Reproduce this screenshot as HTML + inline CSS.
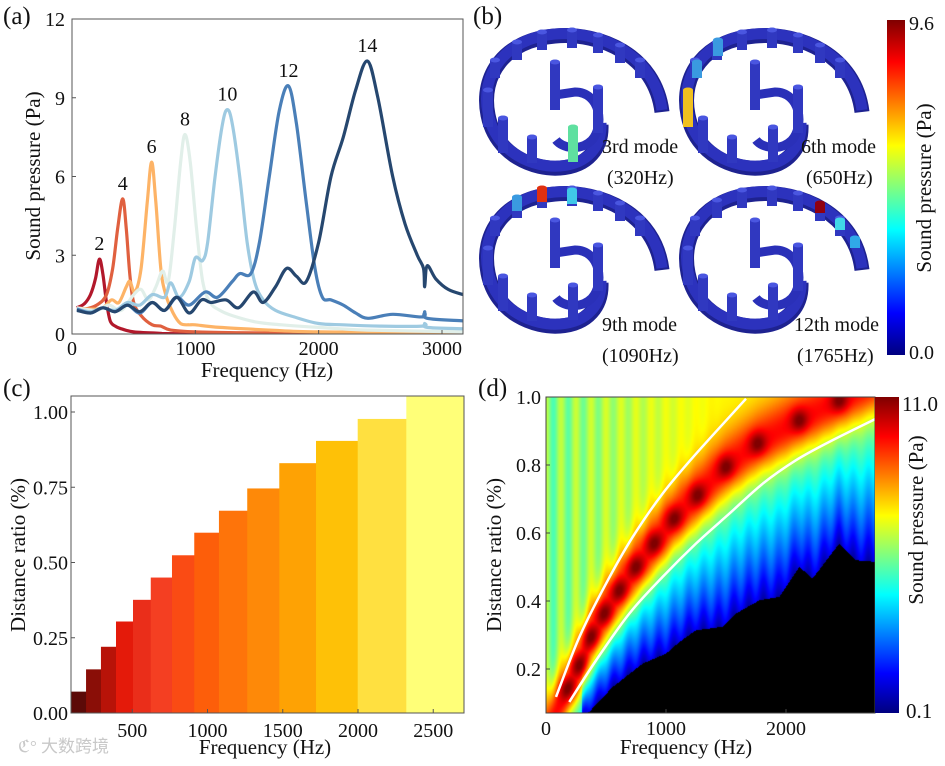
<!DOCTYPE html>
<html><head><meta charset="utf-8">
<style>
html,body{margin:0;padding:0;background:#fff;}
#wrap{position:relative;width:945px;height:766px;overflow:hidden;font-family:"Liberation Serif","Noto Serif CJK SC",serif;}
svg{position:absolute;left:0;top:0;}
#heat{position:absolute;left:546px;top:397px;}
text{font-family:"Liberation Serif","Noto Sans CJK SC",serif;fill:#111;}
</style></head>
<body>
<div id="wrap">
<canvas id="heat" width="329" height="316"></canvas>
<svg id="fig" width="945" height="766" viewBox="0 0 945 766">
<defs>
<linearGradient id="jetV" x1="0" y1="1" x2="0" y2="0">
<stop offset="0" stop-color="#00007f"/><stop offset="0.125" stop-color="#0000ff"/><stop offset="0.375" stop-color="#00ffff"/><stop offset="0.625" stop-color="#ffff00"/><stop offset="0.875" stop-color="#ff0000"/><stop offset="1" stop-color="#7f0000"/>
</linearGradient>
<clipPath id="clipA"><rect x="72" y="19" width="391" height="315"/></clipPath>
<clipPath id="clipC"><rect x="71" y="396" width="393" height="317"/></clipPath>
<clipPath id="clipD"><rect x="546" y="397" width="329" height="316"/></clipPath>
</defs>
<g id="pa"></g>
<g id="pb"></g>
<g id="pc"></g>
<g id="pd"></g>
<text x="18" y="752" font-size="17" style="fill:#c8c8c8">ℭ° 大数跨境</text>
</svg>
</div>
<script>
// ---------- Panel (a) data ----------
const aFreqTicks=[0,1000,2000,3000];
const aPTicks=[0,3,6,9,12];
const aLabels=["2","4","6","8","10","12","14"];
const aColors=["#b2182b","#e0603f","#fdb366","#e1efe9","#9ecae1","#4a7fb8","#26476f"];
const s2F=[40,100,150,190,222,250,280,310,350,400,500,700,1000,3170];
const s2P=[1.0,1.15,1.5,2.1,2.85,2.3,1.2,0.5,0.3,0.2,0.08,0.03,0.01,0];
const s4F=[40,100,200,280,330,370,411,440,470,500,560,650,720,800,1000,1500,3170];
const s4P=[1.0,0.95,1.1,1.5,2.5,4.0,5.15,4.0,2.2,1.2,0.7,0.35,0.3,0.15,0.08,0.04,0.01];
const s6F=[40,150,250,320,380,440,470,510,560,610,646,680,720,760,820,880,950,1000,1200,1600,2000,3170];
const s6P=[1.0,0.95,1.0,1.3,1.2,1.8,2.0,1.6,2.5,5.0,6.55,5.0,2.5,1.5,0.8,0.4,0.35,0.35,0.25,0.15,0.08,0.03];
const s8F=[40,200,300,400,500,560,620,680,735,780,830,880,916,960,1010,1060,1120,1200,1300,1500,1700,2000,2400,3170];
const s8P=[1.0,0.9,1.1,0.9,1.5,1.7,1.3,1.8,2.4,2.0,4.0,6.5,7.6,6.5,4.0,2.0,1.2,0.9,0.7,0.45,0.35,0.25,0.15,0.08];
const s10F=[40,150,250,350,450,550,650,750,800,870,950,1000,1060,1100,1160,1220,1260,1300,1360,1420,1480,1550,1650,1800,2000,2200,2500,2840,2860,2880,3170];
const s10P=[0.95,0.85,1.0,0.9,1.2,1.1,1.5,1.4,1.95,1.4,2.0,2.9,2.8,3.5,6.0,8.0,8.55,8.0,6.0,3.5,2.0,1.3,0.9,0.65,0.4,0.35,0.3,0.3,0.4,0.25,0.2];
const s12F=[40,150,250,350,450,550,650,750,850,950,1080,1180,1300,1360,1450,1520,1600,1680,1755,1820,1900,1970,2030,2100,2200,2300,2400,2600,2840,2860,2880,3170];
const s12P=[0.95,0.8,1.0,0.85,1.1,0.8,1.2,0.9,1.4,1.1,1.6,1.4,2.0,2.3,2.3,3.5,6.0,8.5,9.45,8.0,5.0,2.5,1.4,1.3,1.1,0.8,0.6,0.75,0.65,0.85,0.6,0.5];
const s14F=[40,150,250,350,450,550,650,750,850,950,1050,1130,1250,1350,1470,1550,1650,1740,1820,1900,2000,2100,2200,2300,2395,2480,2600,2700,2800,2850,2860,2880,2950,3050,3170];
const s14P=[0.9,0.8,1.0,0.85,1.1,0.85,1.2,0.9,1.4,0.8,1.3,1.2,1.3,1.0,1.6,1.2,1.8,2.5,2.2,2.0,3.5,6.0,7.5,9.3,10.4,9.0,6.0,4.2,3.0,2.5,1.8,2.6,2.1,1.7,1.5];
const aSeriesF=[s2F,s4F,s6F,s8F,s10F,s12F,s14F];
const aSeriesP=[s2P,s4P,s6P,s8P,s10P,s12P,s14P];

// ---------- Panel (c) data ----------
const cFreqTicks=[500,1000,1500,2000,2500];
const cRatioTicks=[0,0.25,0.5,0.75,1.0];
const cBarEdges=[93,193,292,392,505,623,764,912,1076,1264,1477,1721,1998,2321,2704];
const cBarValues=[0.071,0.145,0.220,0.304,0.376,0.450,0.524,0.599,0.672,0.746,0.830,0.904,0.977,1.06];
const cBarColors=["#5c0a08","#8a0e07","#b81308","#e41a0a","#ea2e1a","#f43f22","#fa4b14","#fd5e0a","#fe740a","#fe8908","#fea204","#fec107","#ffe040","#ffff78"];

// ---------- Panel (d) data ----------
const dFreqTicks=[0,1000,2000];
const dRatioTicks=[0.2,0.4,0.6,0.8,1.0];
const modeFreqs=[181,278,375,486,611,750,903,1069,1264,1500,1764,2111,2444];
const modeRatios=[0.142,0.211,0.294,0.363,0.431,0.5,0.569,0.642,0.711,0.794,0.863,0.931,0.99];
const blackFreqs=[300,361,556,806,1000,1111,1250,1472,1583,1778,1944,2111,2222,2444,2583,2750];
const blackRatios=[0.06,0.074,0.147,0.216,0.245,0.279,0.314,0.324,0.363,0.402,0.412,0.5,0.466,0.569,0.52,0.515];
const upperF=[83,278,500,722,972,1250,1667];
const upperR=[0.118,0.294,0.451,0.588,0.716,0.833,0.995];
const lowerF=[194,417,694,972,1250,1528,1806,2083,2361,2750];
const lowerR=[0.103,0.225,0.363,0.471,0.569,0.657,0.745,0.814,0.868,0.936];

// ---------- Panel (b) data ----------
const bScaleLabels=["9.6","0.0"];

const NS="http://www.w3.org/2000/svg";
function sq(x){return x*x;}
function mk(parent,tag,attrs,name,txt){
  const e=document.createElementNS(NS,tag);
  for(const k in attrs)e.setAttribute(k,attrs[k]);
  
  
  if(txt!==undefined)e.textContent=txt;
  parent.appendChild(e);return e;
}
function smooth(pts){
  let d="M"+pts[0][0].toFixed(1)+","+pts[0][1].toFixed(1);
  for(let i=0;i<pts.length-1;i++){
    const p0=pts[Math.max(0,i-1)],p1=pts[i],p2=pts[i+1],p3=pts[Math.min(pts.length-1,i+2)];
    const c1=[p1[0]+(p2[0]-p0[0])/6,p1[1]+(p2[1]-p0[1])/6];
    const c2=[p2[0]-(p3[0]-p1[0])/6,p2[1]-(p3[1]-p1[1])/6];
    d+=" C"+c1[0].toFixed(1)+","+c1[1].toFixed(1)+" "+c2[0].toFixed(1)+","+c2[1].toFixed(1)+" "+p2[0].toFixed(1)+","+p2[1].toFixed(1);
  }
  return d;
}
function interp(xs,ys,x){
  if(x<=xs[0]){const s=(ys[1]-ys[0])/(xs[1]-xs[0]);return ys[0]+(x-xs[0])*s;}
  for(let i=0;i<xs.length-1;i++){if(x<=xs[i+1]){const t=(x-xs[i])/(xs[i+1]-xs[i]);return ys[i]+t*(ys[i+1]-ys[i]);}}
  const n=xs.length;const s=(ys[n-1]-ys[n-2])/(xs[n-1]-xs[n-2]);return ys[n-1]+(x-xs[n-1])*s;
}
const TF=20, LF=21;

// ===== Panel A =====
(function(){
  const g=document.getElementById('pa');
  const xA=f=>72+f*0.12333, yA=p=>334-p*26.25;
  const lines=mk(g,'g',{'clip-path':'url(#clipA)'},'series-group');
  for(let s=0;s<aSeriesF.length;s++){
    const pts=aSeriesF[s].map((f,i)=>[xA(f),yA(aSeriesP[s][i])]);
    mk(lines,'path',{d:smooth(pts),fill:'none',stroke:aColors[s],'stroke-width':3.2,'stroke-linejoin':'round'},'line-mode-'+aLabels[s]);
    let mi=0;aSeriesP[s].forEach((v,i)=>{if(v>aSeriesP[s][mi])mi=i;});
    mk(g,'text',{x:xA(aSeriesF[s][mi]),y:yA(aSeriesP[s][mi])-9,'font-size':TF,'text-anchor':'middle'},'peak-label-'+aLabels[s],aLabels[s]);
  }
  mk(g,'rect',{x:72,y:19,width:391,height:315,fill:'none',stroke:'#555','stroke-width':1},'plot-frame-a');
  aFreqTicks.forEach(f=>{
    mk(g,'line',{x1:xA(f),x2:xA(f),y1:334,y2:330,stroke:'#555'},'x-tick');
    mk(g,'text',{x:xA(f),y:355,'font-size':TF,'text-anchor':'middle'},'x-tick-label',String(f));
  });
  aPTicks.forEach(p=>{
    mk(g,'line',{x1:72,x2:76,y1:yA(p),y2:yA(p),stroke:'#555'},'y-tick');
    mk(g,'text',{x:65,y:yA(p)+7,'font-size':TF,'text-anchor':'end'},'y-tick-label',String(p));
  });
  mk(g,'text',{x:267,y:377,'font-size':LF,'text-anchor':'middle'},'x-axis-title','Frequency (Hz)');
  mk(g,'text',{x:0,y:0,'font-size':LF,'text-anchor':'middle',transform:'translate(40,176) rotate(-90)'},'y-axis-title','Sound pressure (Pa)');
  mk(g,'text',{x:3,y:24,'font-size':25},'panel-label-a','(a)');
})();

// ===== Panel B =====
(function(){
  const g=document.getElementById('pb');
  mk(g,'text',{x:473,y:24,'font-size':25},'panel-label-b','(b)');
  const offs=[[0,0],[200,0],[0,158],[200,158]];
  const outerP=[[495,60],[517,42],[542,32],[572,30],[598,35],[620,45],[640,60]];
  const innerP=[[555,62,110],[598,87,133],[503,118,153],[532,137,163],[573,127,162],[488,90,127]];
  offs.forEach((o,k)=>{
    const m=mk(g,'g',{transform:'translate('+o[0]+','+o[1]+')'},'model-'+(k+1));
    mk(m,'path',{d:'M662,112 C655,55 600,32 555,36 C505,40 480,75 488,115 C496,156 535,170 560,168 C588,166 602,148 601,125',fill:'none',stroke:'#1e2290','stroke-width':15},'ring-shadow');
    mk(m,'path',{d:'M662,110 C655,55 600,30 555,34 C505,38 480,75 488,113 C496,154 535,168 560,166 C588,164 602,146 601,123',fill:'none',stroke:'#2c32bd','stroke-width':11},'ring');
    mk(m,'path',{d:'M555,95 L575,92 C600,92 605,125 592,140 C580,152 562,148 556,140',fill:'none',stroke:'#2a30b8','stroke-width':9},'inner-hook');
    const pil=(x,t,b,col,nm)=>{
      mk(m,'rect',{x:x-5,y:t,width:10,height:b-t,fill:col||'#3038c0'},nm);
      mk(m,'ellipse',{cx:x,cy:t,rx:5,ry:2.5,fill:col?col:'#4a56e0'},nm+'-top');
    };
    outerP.forEach(p=>pil(p[0],p[1],p[1]+18,null,'pillar'));
    innerP.forEach(p=>pil(p[0],p[1],p[2],(k===0&&p[0]===573)?'#5fe0a0':(k===1&&p[0]===488)?'#f0c020':null,'inner-pillar'));
    if(k===3){[[620,'#900010',45],[640,'#40d8e8',62],[655,'#30a8e8',80]].forEach(h=>pil(h[0],h[2],h[2]+10,h[1],'hot-pillar'));}
    if(k===2){[[542,'#e03010',30],[517,'#3a9ae0',39],[572,'#40c8e8',32]].forEach(h=>pil(h[0],h[2],h[2]+14,h[1],'hot-pillar'));}
    if(k===1){[[497,'#3a9ae0',62],[518,'#3a9ae0',40]].forEach(h=>pil(h[0],h[2],h[2]+16,h[1],'hot-pillar'));}
  });
  const txt=[["3rd mode",602,153],["(320Hz)",607,184],["6th mode",801,153],["(650Hz)",806,184],["9th mode",602,331],["(1090Hz)",602,362],["12th mode",794,331],["(1765Hz)",797,362]];
  txt.forEach(t=>mk(g,'text',{x:t[1],y:t[2],'font-size':TF},'mode-label',t[0]));
  mk(g,'rect',{x:887,y:20,width:18,height:335,fill:'url(#jetV)'},'colorbar-b');
  mk(g,'text',{x:909,y:30,'font-size':TF},'colorbar-max-b',bScaleLabels[0]);
  mk(g,'text',{x:909,y:359,'font-size':TF},'colorbar-min-b',bScaleLabels[1]);
  mk(g,'text',{x:0,y:0,'font-size':LF,'text-anchor':'middle',transform:'translate(931,188) rotate(-90)'},'colorbar-title-b','Sound pressure (Pa)');
})();

// ===== Panel C =====
(function(){
  const g=document.getElementById('pc');
  const xC=f=>57+f*0.1505, yC=v=>713-v*301;
  const bars=mk(g,'g',{'clip-path':'url(#clipC)'},'bars');
  cBarValues.forEach((v,i)=>{
    const x0=xC(cBarEdges[i]),x1=xC(cBarEdges[i+1]);
    mk(bars,'rect',{x:x0,y:yC(v),width:x1-x0+0.5,height:713-yC(v),fill:cBarColors[i]},'bar-'+(i+1));
  });
  mk(g,'rect',{x:71,y:396,width:393,height:317,fill:'none',stroke:'#555'},'plot-frame-c');
  cFreqTicks.forEach(f=>{
    mk(g,'line',{x1:xC(f),x2:xC(f),y1:713,y2:709,stroke:'#555'},'x-tick');
    mk(g,'text',{x:xC(f),y:737,'font-size':TF,'text-anchor':'middle'},'x-tick-label',String(f));
  });
  cRatioTicks.forEach(v=>{
    mk(g,'line',{x1:71,x2:75,y1:yC(v),y2:yC(v),stroke:'#555'},'y-tick');
    mk(g,'text',{x:68,y:yC(v)+7,'font-size':TF,'text-anchor':'end'},'y-tick-label',v.toFixed(2));
  });
  mk(g,'text',{x:265,y:754,'font-size':LF,'text-anchor':'middle'},'x-axis-title','Frequency (Hz)');
  mk(g,'text',{x:0,y:0,'font-size':LF,'text-anchor':'middle',transform:'translate(25,555) rotate(-90)'},'y-axis-title','Distance ratio (%)');
  mk(g,'text',{x:3,y:396,'font-size':25},'panel-label-c','(c)');
})();

// ===== Panel D =====
(function(){
  const g=document.getElementById('pd');
  const xD=f=>546+f*0.12, yD=r=>397+(1-r)*340;
  const cv=document.getElementById('heat'),ctx=cv.getContext('2d');
  const W=329,H=316,img=ctx.createImageData(W,H);
  const cl=v=>Math.max(0,Math.min(1,v));
  for(let px=0;px<W;px++){
    const f=(px+0.5)/0.12;
    const rc=interp(modeFreqs,modeRatios,f);
    const rb=f<blackFreqs[0]?-1:interp(blackFreqs,blackRatios,f);
    const stripe=Math.cos(2*Math.PI*f/125);
    for(let py=0;py<H;py++){
      const r=1-(py+0.5)/340;
      let v,black=false;
      const d=r-rc;
      if(d>=0){
        const base=0.5+0.13*Math.min(1,f/1400)+0.06*stripe*Math.max(0,1-f/1500);
        v=base+(0.87-base)*Math.exp(-sq(d/0.1));
      }else{
        if(r<rb){black=true;v=0;}
        else{
          const lo=rb<0?-0.1:rb;
          const s=cl((r-lo)/Math.max(0.02,rc-lo));
          const below=0.07+0.55*Math.pow(s,0.9)+0.04*stripe*(1-s);
          v=below+(0.87-below)*Math.exp(-sq(d/0.085));
        }
      }
      let bl=0;
      for(let i=0;i<modeFreqs.length;i++){bl=Math.max(bl,Math.exp(-sq((f-modeFreqs[i])/75)-sq((r-modeRatios[i])/0.035)));}
      v=cl(v+0.14*bl);
      const k=(py*W+px)*4;
      if(black){img.data[k]=0;img.data[k+1]=0;img.data[k+2]=0;}
      else{
        img.data[k]=255*cl(1.5-Math.abs(4*v-3));
        img.data[k+1]=255*cl(1.5-Math.abs(4*v-2));
        img.data[k+2]=255*cl(1.5-Math.abs(4*v-1));
      }
      img.data[k+3]=255;
    }
  }
  ctx.putImageData(img,0,0);
  const cg=mk(g,'g',{'clip-path':'url(#clipD)'},'boundary-curves');
  mk(cg,'path',{d:smooth(upperF.map((f,i)=>[xD(f),yD(upperR[i])])),fill:'none',stroke:'#fff','stroke-width':2.5},'upper-boundary-curve');
  mk(cg,'path',{d:smooth(lowerF.map((f,i)=>[xD(f),yD(lowerR[i])])),fill:'none',stroke:'#fff','stroke-width':2.5},'lower-boundary-curve');
  mk(g,'rect',{x:546,y:397,width:329,height:316,fill:'none',stroke:'#444'},'plot-frame-d');
  mk(g,'rect',{x:875,y:397,width:24,height:316,fill:'url(#jetV)'},'colorbar-d');
  mk(g,'text',{x:902,y:411,'font-size':LF},'colorbar-max-d','11.0');
  mk(g,'text',{x:906,y:718,'font-size':LF},'colorbar-min-d','0.1');
  mk(g,'text',{x:0,y:0,'font-size':LF,'text-anchor':'middle',transform:'translate(923,520) rotate(-90)'},'colorbar-title-d','Sound pressure (Pa)');
  dFreqTicks.forEach(f=>{
    mk(g,'line',{x1:xD(f),x2:xD(f),y1:713,y2:709,stroke:'#444'},'x-tick');
    mk(g,'text',{x:xD(f),y:735,'font-size':TF,'text-anchor':'middle'},'x-tick-label',String(f));
  });
  dRatioTicks.forEach(r=>{
    mk(g,'line',{x1:546,x2:550,y1:yD(r),y2:yD(r),stroke:'#444'},'y-tick');
    mk(g,'text',{x:541,y:yD(r)+7,'font-size':TF,'text-anchor':'end'},'y-tick-label',r.toFixed(1));
  });
  mk(g,'text',{x:686,y:754,'font-size':LF,'text-anchor':'middle'},'x-axis-title','Frequency (Hz)');
  mk(g,'text',{x:0,y:0,'font-size':LF,'text-anchor':'middle',transform:'translate(501,555) rotate(-90)'},'y-axis-title','Distance ratio (%)');
  mk(g,'text',{x:478,y:396,'font-size':25},'panel-label-d','(d)');
})();
</script>
</body></html>
